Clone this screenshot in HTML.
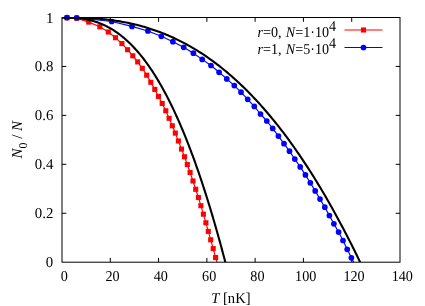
<!DOCTYPE html><html><head><meta charset="utf-8"><style>html,body{margin:0;padding:0;background:#fff}svg{display:block}text{text-rendering:geometricPrecision;font-family:"Liberation Serif",serif;fill:#000}</style></head><body>
<svg width="425" height="306" viewBox="0 0 425 306">
<rect width="425" height="306" fill="#fff"/>
<path d="M110.29,262.20v-4.3 M110.29,17.50v4.3 M158.57,262.20v-4.3 M158.57,17.50v4.3 M206.86,262.20v-4.3 M206.86,17.50v4.3 M255.14,262.20v-4.3 M255.14,17.50v4.3 M303.43,262.20v-4.3 M303.43,17.50v4.3 M351.71,262.20v-4.3 M351.71,17.50v4.3 M62.00,213.26h4.3 M400.00,213.26h-4.3 M62.00,164.32h4.3 M400.00,164.32h-4.3 M62.00,115.38h4.3 M400.00,115.38h-4.3 M62.00,66.44h4.3 M400.00,66.44h-4.3" stroke="#000" stroke-width="1" fill="none"/>
<g fill="none" stroke-linejoin="round">
<path d="M67.00,17.80 L76.70,18.20 L88.70,22.10 L99.80,26.80 L108.30,32.00 L115.50,37.70 L121.90,43.60 L127.60,49.70 L132.80,55.80 L137.70,61.90 L142.30,68.30 L146.70,75.20 L150.80,82.30 L154.80,89.40 L158.50,96.40 L162.20,103.50 L165.80,110.80 L169.10,118.30 L172.30,125.80 L175.30,133.10 L178.40,141.00 L181.50,149.10 L184.50,156.80 L187.30,164.60 L190.10,172.50 L193.00,181.00 L195.70,189.30 L198.40,197.50 L200.90,205.70 L203.40,214.20 L205.90,222.80 L208.30,231.40 L210.70,239.80 L213.20,248.60 L215.60,257.50 L216.90,262.20" stroke="#f00" stroke-width="1.15"/>
<path d="M67.00,17.60 L76.70,17.80 L111.70,21.50 L132.00,26.40 L147.90,31.00 L161.30,36.30 L172.90,41.70 L183.70,47.30 L193.40,53.20 L202.20,59.40 L211.00,65.50 L219.10,72.30 L226.80,78.90 L234.30,85.60 L241.00,92.20 L247.70,99.30 L254.30,106.40 L260.50,114.00 L266.80,121.00 L272.70,128.40 L278.40,136.10 L284.00,143.70 L289.50,151.20 L294.80,159.10 L300.20,166.90 L305.40,174.90 L310.30,182.80 L315.20,190.90 L320.00,199.10 L324.80,207.20 L329.40,215.60 L333.90,223.80 L338.60,232.10 L343.00,240.50 L347.20,249.30 L351.40,257.80 L353.60,262.20" stroke="#00f" stroke-width="1.15"/>
</g>
<g fill="#f00"><rect x="64.45" y="15.25" width="5.1" height="5.1"/><rect x="74.15" y="15.65" width="5.1" height="5.1"/><rect x="86.15" y="19.55" width="5.1" height="5.1"/><rect x="97.25" y="24.25" width="5.1" height="5.1"/><rect x="105.75" y="29.45" width="5.1" height="5.1"/><rect x="112.95" y="35.15" width="5.1" height="5.1"/><rect x="119.35" y="41.05" width="5.1" height="5.1"/><rect x="125.05" y="47.15" width="5.1" height="5.1"/><rect x="130.25" y="53.25" width="5.1" height="5.1"/><rect x="135.15" y="59.35" width="5.1" height="5.1"/><rect x="139.75" y="65.75" width="5.1" height="5.1"/><rect x="144.15" y="72.65" width="5.1" height="5.1"/><rect x="148.25" y="79.75" width="5.1" height="5.1"/><rect x="152.25" y="86.85" width="5.1" height="5.1"/><rect x="155.95" y="93.85" width="5.1" height="5.1"/><rect x="159.65" y="100.95" width="5.1" height="5.1"/><rect x="163.25" y="108.25" width="5.1" height="5.1"/><rect x="166.55" y="115.75" width="5.1" height="5.1"/><rect x="169.75" y="123.25" width="5.1" height="5.1"/><rect x="172.75" y="130.55" width="5.1" height="5.1"/><rect x="175.85" y="138.45" width="5.1" height="5.1"/><rect x="178.95" y="146.55" width="5.1" height="5.1"/><rect x="181.95" y="154.25" width="5.1" height="5.1"/><rect x="184.75" y="162.05" width="5.1" height="5.1"/><rect x="187.55" y="169.95" width="5.1" height="5.1"/><rect x="190.45" y="178.45" width="5.1" height="5.1"/><rect x="193.15" y="186.75" width="5.1" height="5.1"/><rect x="195.85" y="194.95" width="5.1" height="5.1"/><rect x="198.35" y="203.15" width="5.1" height="5.1"/><rect x="200.85" y="211.65" width="5.1" height="5.1"/><rect x="203.35" y="220.25" width="5.1" height="5.1"/><rect x="205.75" y="228.85" width="5.1" height="5.1"/><rect x="208.15" y="237.25" width="5.1" height="5.1"/><rect x="210.65" y="246.05" width="5.1" height="5.1"/><rect x="213.05" y="254.95" width="5.1" height="5.1"/></g>
<g fill="#00f"><circle cx="67.00" cy="17.60" r="2.85"/><circle cx="76.70" cy="17.80" r="2.85"/><circle cx="111.70" cy="21.50" r="2.85"/><circle cx="132.00" cy="26.40" r="2.85"/><circle cx="147.90" cy="31.00" r="2.85"/><circle cx="161.30" cy="36.30" r="2.85"/><circle cx="172.90" cy="41.70" r="2.85"/><circle cx="183.70" cy="47.30" r="2.85"/><circle cx="193.40" cy="53.20" r="2.85"/><circle cx="202.20" cy="59.40" r="2.85"/><circle cx="211.00" cy="65.50" r="2.85"/><circle cx="219.10" cy="72.30" r="2.85"/><circle cx="226.80" cy="78.90" r="2.85"/><circle cx="234.30" cy="85.60" r="2.85"/><circle cx="241.00" cy="92.20" r="2.85"/><circle cx="247.70" cy="99.30" r="2.85"/><circle cx="254.30" cy="106.40" r="2.85"/><circle cx="260.50" cy="114.00" r="2.85"/><circle cx="266.80" cy="121.00" r="2.85"/><circle cx="272.70" cy="128.40" r="2.85"/><circle cx="278.40" cy="136.10" r="2.85"/><circle cx="284.00" cy="143.70" r="2.85"/><circle cx="289.50" cy="151.20" r="2.85"/><circle cx="294.80" cy="159.10" r="2.85"/><circle cx="300.20" cy="166.90" r="2.85"/><circle cx="305.40" cy="174.90" r="2.85"/><circle cx="310.30" cy="182.80" r="2.85"/><circle cx="315.20" cy="190.90" r="2.85"/><circle cx="320.00" cy="199.10" r="2.85"/><circle cx="324.80" cy="207.20" r="2.85"/><circle cx="329.40" cy="215.60" r="2.85"/><circle cx="333.90" cy="223.80" r="2.85"/><circle cx="338.60" cy="232.10" r="2.85"/><circle cx="343.00" cy="240.50" r="2.85"/><circle cx="347.20" cy="249.30" r="2.85"/><circle cx="351.40" cy="257.80" r="2.85"/></g>
<clipPath id="c"><rect x="62.0" y="17.5" width="338.0" height="244.7"/></clipPath>
<g fill="none" stroke="#000" stroke-width="2.1" clip-path="url(#c)">
<path d="M62.00,17.50 L62.82,17.50 L63.63,17.50 L64.45,17.51 L65.27,17.51 L66.08,17.52 L66.90,17.53 L67.72,17.55 L68.53,17.56 L69.35,17.59 L70.17,17.61 L70.98,17.65 L71.80,17.68 L72.62,17.72 L73.43,17.77 L74.25,17.82 L75.07,17.88 L75.88,17.94 L76.70,18.01 L77.52,18.09 L78.33,18.17 L79.15,18.26 L79.97,18.36 L80.78,18.46 L81.60,18.57 L82.42,18.69 L83.23,18.82 L84.05,18.95 L84.87,19.09 L85.68,19.24 L86.50,19.40 L87.32,19.57 L88.13,19.74 L88.95,19.93 L89.77,20.12 L90.58,20.32 L91.40,20.53 L92.22,20.76 L93.03,20.99 L93.85,21.22 L94.67,21.47 L95.48,21.73 L96.30,22.00 L97.12,22.28 L97.93,22.57 L98.75,22.87 L99.57,23.18 L100.38,23.51 L101.20,23.84 L102.01,24.18 L102.83,24.54 L103.65,24.90 L104.46,25.28 L105.28,25.67 L106.10,26.07 L106.91,26.48 L107.73,26.90 L108.55,27.34 L109.36,27.79 L110.18,28.25 L111.00,28.72 L111.81,29.21 L112.63,29.70 L113.45,30.21 L114.26,30.74 L115.08,31.27 L115.90,31.82 L116.71,32.38 L117.53,32.96 L118.35,33.55 L119.16,34.15 L119.98,34.77 L120.80,35.40 L121.61,36.04 L122.43,36.70 L123.25,37.37 L124.06,38.05 L124.88,38.75 L125.70,39.47 L126.51,40.19 L127.33,40.94 L128.15,41.69 L128.96,42.47 L129.78,43.25 L130.60,44.06 L131.41,44.87 L132.23,45.70 L133.05,46.55 L133.86,47.41 L134.68,48.29 L135.50,49.19 L136.31,50.09 L137.13,51.02 L137.95,51.96 L138.76,52.92 L139.58,53.89 L140.40,54.88 L141.21,55.88 L142.03,56.90 L142.85,57.94 L143.66,59.00 L144.48,60.07 L145.30,61.15 L146.11,62.26 L146.93,63.38 L147.75,64.52 L148.56,65.67 L149.38,66.84 L150.20,68.03 L151.01,69.24 L151.83,70.46 L152.65,71.70 L153.46,72.96 L154.28,74.24 L155.10,75.53 L155.91,76.84 L156.73,78.17 L157.55,79.52 L158.36,80.89 L159.18,82.27 L160.00,83.68 L160.81,85.10 L161.63,86.54 L162.45,87.99 L163.26,89.47 L164.08,90.97 L164.90,92.48 L165.71,94.01 L166.53,95.56 L167.35,97.14 L168.16,98.73 L168.98,100.33 L169.80,101.96 L170.61,103.61 L171.43,105.28 L172.25,106.96 L173.06,108.67 L173.88,110.40 L174.70,112.14 L175.51,113.91 L176.33,115.69 L177.15,117.50 L177.96,119.33 L178.78,121.17 L179.60,123.04 L180.41,124.92 L181.23,126.83 L182.04,128.76 L182.86,130.71 L183.68,132.67 L184.49,134.66 L185.31,136.67 L186.13,138.70 L186.94,140.76 L187.76,142.83 L188.58,144.92 L189.39,147.04 L190.21,149.17 L191.03,151.33 L191.84,153.51 L192.66,155.71 L193.48,157.93 L194.29,160.18 L195.11,162.44 L195.93,164.73 L196.74,167.04 L197.56,169.37 L198.38,171.72 L199.19,174.10 L200.01,176.50 L200.83,178.92 L201.64,181.36 L202.46,183.82 L203.28,186.31 L204.09,188.82 L204.91,191.35 L205.73,193.90 L206.54,196.48 L207.36,199.08 L208.18,201.70 L208.99,204.35 L209.81,207.02 L210.63,209.71 L211.44,212.43 L212.26,215.17 L213.08,217.93 L213.89,220.71 L214.71,223.52 L215.53,226.35 L216.34,229.21 L217.16,232.09 L217.98,234.99 L218.79,237.92 L219.61,240.87 L220.43,243.84 L221.24,246.84 L222.06,249.87 L222.88,252.91 L223.69,255.98 L224.51,259.08 L225.33,262.20"/>
<path d="M62.00,17.50 L63.49,17.50 L64.98,17.50 L66.47,17.51 L67.96,17.51 L69.45,17.52 L70.94,17.53 L72.44,17.55 L73.93,17.57 L75.42,17.60 L76.91,17.63 L78.40,17.66 L79.89,17.70 L81.38,17.74 L82.87,17.79 L84.36,17.85 L85.85,17.91 L87.34,17.98 L88.83,18.05 L90.33,18.13 L91.82,18.22 L93.31,18.32 L94.80,18.42 L96.29,18.53 L97.78,18.65 L99.27,18.77 L100.76,18.90 L102.25,19.04 L103.74,19.19 L105.23,19.35 L106.72,19.51 L108.22,19.69 L109.71,19.87 L111.20,20.06 L112.69,20.26 L114.18,20.48 L115.67,20.70 L117.16,20.92 L118.65,21.16 L120.14,21.41 L121.63,21.67 L123.12,21.94 L124.61,22.22 L126.11,22.51 L127.60,22.81 L129.09,23.12 L130.58,23.44 L132.07,23.77 L133.56,24.12 L135.05,24.47 L136.54,24.84 L138.03,25.21 L139.52,25.60 L141.01,26.00 L142.50,26.41 L144.00,26.84 L145.49,27.27 L146.98,27.72 L148.47,28.18 L149.96,28.65 L151.45,29.13 L152.94,29.63 L154.43,30.14 L155.92,30.66 L157.41,31.20 L158.90,31.75 L160.39,32.31 L161.89,32.88 L163.38,33.47 L164.87,34.07 L166.36,34.68 L167.85,35.31 L169.34,35.95 L170.83,36.61 L172.32,37.28 L173.81,37.96 L175.30,38.66 L176.79,39.37 L178.28,40.10 L179.77,40.84 L181.27,41.59 L182.76,42.36 L184.25,43.14 L185.74,43.94 L187.23,44.76 L188.72,45.58 L190.21,46.43 L191.70,47.29 L193.19,48.16 L194.68,49.05 L196.17,49.95 L197.66,50.87 L199.16,51.81 L200.65,52.76 L202.14,53.73 L203.63,54.71 L205.12,55.71 L206.61,56.72 L208.10,57.76 L209.59,58.80 L211.08,59.87 L212.57,60.95 L214.06,62.04 L215.55,63.16 L217.05,64.29 L218.54,65.43 L220.03,66.60 L221.52,67.78 L223.01,68.97 L224.50,70.19 L225.99,71.42 L227.48,72.67 L228.97,73.94 L230.46,75.22 L231.95,76.52 L233.44,77.84 L234.94,79.17 L236.43,80.53 L237.92,81.90 L239.41,83.29 L240.90,84.70 L242.39,86.12 L243.88,87.57 L245.37,89.03 L246.86,90.51 L248.35,92.01 L249.84,93.53 L251.33,95.06 L252.83,96.62 L254.32,98.19 L255.81,99.78 L257.30,101.39 L258.79,103.02 L260.28,104.67 L261.77,106.34 L263.26,108.03 L264.75,109.73 L266.24,111.46 L267.73,113.20 L269.22,114.97 L270.72,116.75 L272.21,118.55 L273.70,120.38 L275.19,122.22 L276.68,124.08 L278.17,125.96 L279.66,127.87 L281.15,129.79 L282.64,131.73 L284.13,133.70 L285.62,135.68 L287.11,137.68 L288.60,139.71 L290.10,141.75 L291.59,143.82 L293.08,145.90 L294.57,148.01 L296.06,150.13 L297.55,152.28 L299.04,154.45 L300.53,156.64 L302.02,158.85 L303.51,161.08 L305.00,163.34 L306.49,165.61 L307.99,167.91 L309.48,170.22 L310.97,172.56 L312.46,174.92 L313.95,177.30 L315.44,179.70 L316.93,182.13 L318.42,184.58 L319.91,187.04 L321.40,189.54 L322.89,192.05 L324.38,194.58 L325.88,197.14 L327.37,199.72 L328.86,202.32 L330.35,204.94 L331.84,207.59 L333.33,210.26 L334.82,212.95 L336.31,215.66 L337.80,218.40 L339.29,221.16 L340.78,223.94 L342.27,226.74 L343.77,229.57 L345.26,232.42 L346.75,235.29 L348.24,238.19 L349.73,241.11 L351.22,244.05 L352.71,247.02 L354.20,250.01 L355.69,253.02 L357.18,256.06 L358.67,259.12 L360.16,262.20"/>
</g>
<rect x="62.0" y="17.5" width="338.0" height="244.7" fill="none" stroke="#000" stroke-width="1"/>
<path d="M344.5,30H382.5" stroke="#f00" stroke-width="1"/><rect x="360.95" y="27.45" width="5.1" height="5.1" fill="#f00"/>
<path d="M344.5,47.5H382.5" stroke="#00f" stroke-width="1"/><circle cx="363.5" cy="47.5" r="2.85" fill="#00f"/>
<defs><filter id="f" x="0" y="0" width="425" height="306" filterUnits="userSpaceOnUse"><feOffset dx="0" dy="0"/></filter></defs><g filter="url(#f)">
<text word-spacing="0.8" transform="translate(329.10,36.80)  scale(0.940,1)" text-anchor="end" font-size="15"><tspan font-style="italic">r</tspan>=0, <tspan font-style="italic">N</tspan>=1·10</text>
<text transform="translate(329.00,30.70)  scale(0.940,1)" text-anchor="start" font-size="15">4</text>
<text word-spacing="0.8" transform="translate(329.10,54.20)  scale(0.940,1)" text-anchor="end" font-size="15"><tspan font-style="italic">r</tspan>=1, <tspan font-style="italic">N</tspan>=5·10</text>
<text transform="translate(329.00,48.10)  scale(0.940,1)" text-anchor="start" font-size="15">4</text>
<text transform="translate(64.30,281.10)  scale(0.945,1)" text-anchor="middle" font-size="15">0</text>
<text transform="translate(112.59,281.10)  scale(0.945,1)" text-anchor="middle" font-size="15">20</text>
<text transform="translate(160.87,281.10)  scale(0.945,1)" text-anchor="middle" font-size="15">40</text>
<text transform="translate(209.16,281.10)  scale(0.945,1)" text-anchor="middle" font-size="15">60</text>
<text transform="translate(257.44,281.10)  scale(0.945,1)" text-anchor="middle" font-size="15">80</text>
<text transform="translate(305.73,281.10)  scale(0.945,1)" text-anchor="middle" font-size="15">100</text>
<text transform="translate(354.01,281.10)  scale(0.945,1)" text-anchor="middle" font-size="15">120</text>
<text transform="translate(402.30,281.10)  scale(0.945,1)" text-anchor="middle" font-size="15">140</text>
<text transform="translate(53.30,266.55)  scale(0.990,1)" text-anchor="end" font-size="15">0</text>
<text transform="translate(53.30,217.74)  scale(0.990,1)" text-anchor="end" font-size="15">0.2</text>
<text transform="translate(53.30,168.93)  scale(0.990,1)" text-anchor="end" font-size="15">0.4</text>
<text transform="translate(53.30,120.12)  scale(0.990,1)" text-anchor="end" font-size="15">0.6</text>
<text transform="translate(53.30,71.31)  scale(0.990,1)" text-anchor="end" font-size="15">0.8</text>
<text transform="translate(53.30,22.50)  scale(0.990,1)" text-anchor="end" font-size="15">1</text>
<text transform="translate(230.90,303.30)  scale(0.975,1)" text-anchor="middle" font-size="15"><tspan font-style="italic">T</tspan> [nK]</text>
<text transform="translate(22.10,139.70) rotate(-90) scale(0.993,1)" text-anchor="middle" font-size="15"><tspan font-style="italic">N</tspan><tspan dy="4.5" font-size="12">0</tspan><tspan dy="-4.5"> / </tspan><tspan font-style="italic">N</tspan></text>
</g>
</svg></body></html>
